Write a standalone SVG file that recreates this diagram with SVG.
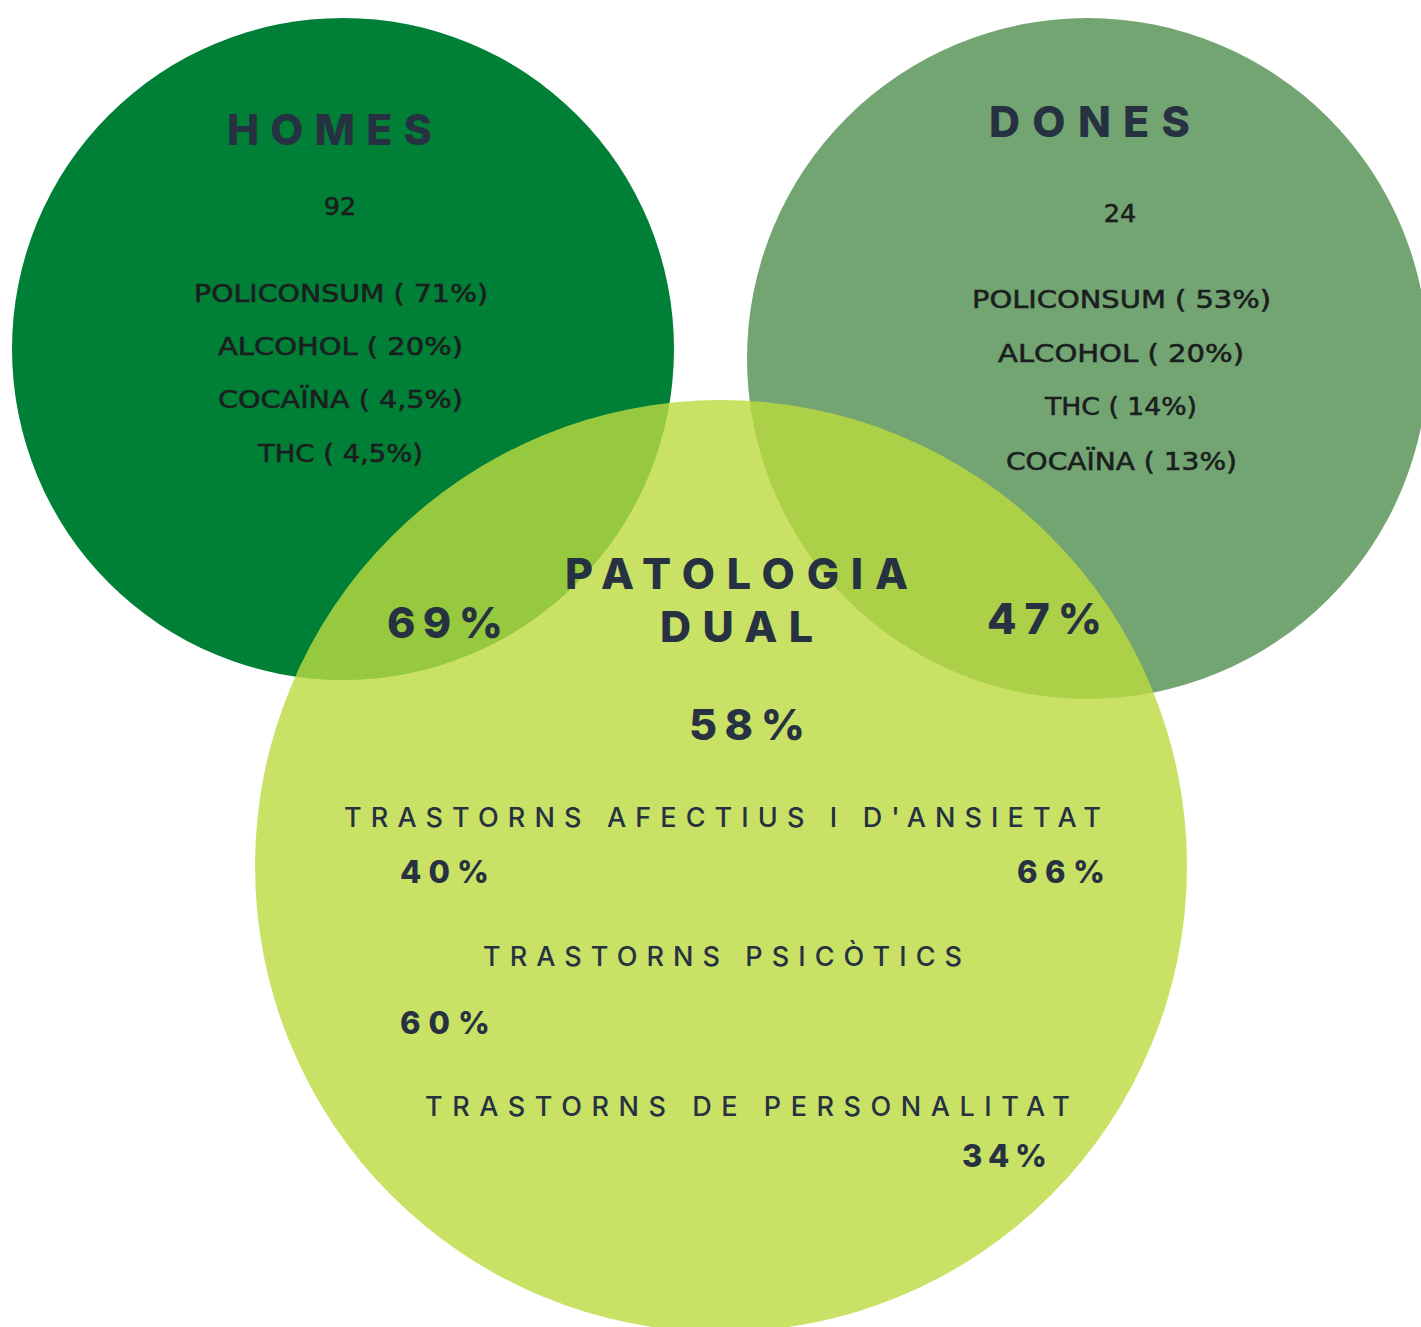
<svg xmlns="http://www.w3.org/2000/svg" width="1421" height="1327" viewBox="0 0 1421 1327">
<style>
text{font-family:"Inter","Noto Sans","DejaVu Sans",sans-serif;}
.title{font-size:43px;font-weight:800;fill:#263142;}
.big{font-size:43px;font-weight:800;fill:#263142;}
.item{font-family:"DejaVu Sans","Noto Sans",sans-serif;font-size:25.5px;font-weight:400;fill:#1b1e1f;stroke:#1b1e1f;stroke-width:0.6px;}
.cat{font-size:27px;font-weight:500;fill:#263142;}
.pct{font-size:31px;font-weight:800;fill:#263142;}
</style>
<rect width="1421" height="1327" fill="#ffffff"/>
<g id="homes">
<circle cx="343" cy="349" r="331" fill="#008037"/>
</g>
<g id="dones">
<circle cx="1087.5" cy="358.5" r="340.5" fill="#72a572"/>
</g>
<g id="patologia-dual">
<circle cx="721" cy="866" r="466" fill="#bcdb3e" fill-opacity="0.8"/>
</g>
<g id="connectors"/>
<g id="homes-text">
<text class="title" x="227" y="145" textLength="205" lengthAdjust="spacing">HOMES</text>
<text class="item" x="340" y="215" text-anchor="middle">92</text>
<text class="item" x="194" y="302" textLength="294" lengthAdjust="spacingAndGlyphs">POLICONSUM ( 71%)</text>
<text class="item" x="218" y="355" textLength="245" lengthAdjust="spacingAndGlyphs">ALCOHOL ( 20%)</text>
<text class="item" x="218" y="408" textLength="245" lengthAdjust="spacingAndGlyphs">COCAÏNA ( 4,5%)</text>
<text class="item" x="258" y="462" textLength="165" lengthAdjust="spacingAndGlyphs">THC ( 4,5%)</text>
</g>
<g id="dones-text">
<text class="title" x="989" y="137" textLength="201" lengthAdjust="spacing">DONES</text>
<text class="item" x="1120" y="222" text-anchor="middle">24</text>
<text class="item" x="972" y="308" textLength="299" lengthAdjust="spacingAndGlyphs">POLICONSUM ( 53%)</text>
<text class="item" x="998" y="362" textLength="246" lengthAdjust="spacingAndGlyphs">ALCOHOL ( 20%)</text>
<text class="item" x="1045" y="415" textLength="152" lengthAdjust="spacingAndGlyphs">THC ( 14%)</text>
<text class="item" x="1006" y="470" textLength="231" lengthAdjust="spacingAndGlyphs">COCAÏNA ( 13%)</text>
</g>
<g id="patologia-text">
<text class="title" x="565" y="589" textLength="343" lengthAdjust="spacing">PATOLOGIA</text>
<text class="title" x="660" y="642" textLength="153" lengthAdjust="spacing">DUAL</text>
<text class="big" x="387" y="638" textLength="116" lengthAdjust="spacing">69%</text>
<text class="big" x="987" y="634" textLength="115" lengthAdjust="spacing">47%</text>
<text class="big" x="689" y="740" textLength="116" lengthAdjust="spacing">58%</text>
<text class="cat" x="344" y="827" textLength="757" lengthAdjust="spacing">TRASTORNS AFECTIUS I D'ANSIETAT</text>
<text class="pct" x="400" y="883" textLength="89" lengthAdjust="spacing">40%</text>
<text class="pct" x="1017" y="883" textLength="88" lengthAdjust="spacing">66%</text>
<text class="cat" x="483" y="966" textLength="479" lengthAdjust="spacing">TRASTORNS PSICÒTICS</text>
<text class="pct" x="400" y="1034" textLength="90" lengthAdjust="spacing">60%</text>
<text class="cat" x="425" y="1116" textLength="645" lengthAdjust="spacing">TRASTORNS DE PERSONALITAT</text>
<text class="pct" x="962" y="1167" textLength="85" lengthAdjust="spacing">34%</text>
</g>
</svg>
